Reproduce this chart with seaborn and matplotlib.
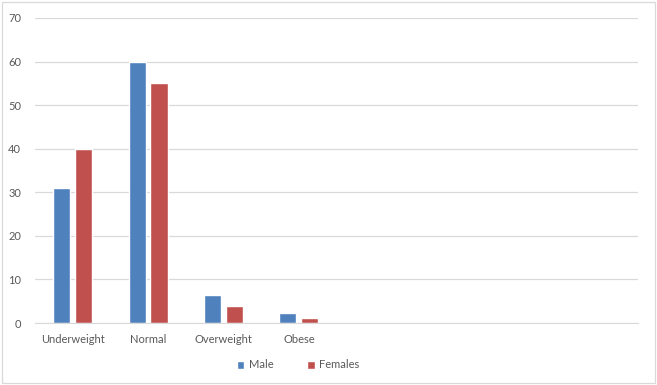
import pandas as pd
import matplotlib.pyplot as plt
import seaborn as sns
from matplotlib.patches import Rectangle

# -----------------------------------
# DATA
# -----------------------------------

categories = ["Underweight", "Normal", "Overweight", "Obese"]
male = [31, 60, 6.5, 2.3]
females = [40, 55, 3.8, 1.2]
series_names = ["Male", "Females"]

df = pd.DataFrame({
    "category": categories * 2,
    "value": male + females,
    "series": [series_names[0]] * len(categories) + [series_names[1]] * len(categories),
})

# -----------------------------------
# PLOT
# -----------------------------------

sns.set_style("white")
plt.rcParams["font.family"] = ["Lato", "DejaVu Sans"]

fig = plt.figure(figsize=(6.57, 3.85), dpi=100)
ax = fig.add_axes([35 / 657, 1 - 323 / 385, 603 / 657, 305 / 385])

sns.barplot(data=df, x="category", y="value", hue="series", order=categories,
            palette=["#4F81BD", "#C0504D"], width=0.58, gap=0.22,
            saturation=1, ax=ax)

ax.set_xlim(-0.5, 7.5)
ax.set_ylim(0, 70)
ax.set_yticks(range(0, 71, 10))
ax.yaxis.grid(True, color="#D9D9D9", linewidth=0.9)
ax.set_axisbelow(True)
ax.set_xlabel("")
ax.set_ylabel("")
ax.tick_params(axis="both", length=0, labelsize=8, colors="#595959", pad=8)
ax.tick_params(axis="y", pad=10)

for side in ["top", "right", "left"]:
    ax.spines[side].set_visible(False)
ax.spines["bottom"].set_color("#D9D9D9")

ax.legend(loc="center", bbox_to_anchor=(298 / 657, 1 - 365 / 385),
          bbox_transform=fig.transFigure, ncol=2, frameon=False,
          fontsize=8, handlelength=0.7, handleheight=0.7,
          columnspacing=3.0, handletextpad=0.4, labelcolor="#595959")

# chart border
fig.patches.append(Rectangle((2 / 657, 2 / 385), 653 / 657, 381 / 385,
                             transform=fig.transFigure, fill=False,
                             edgecolor="#D9D9D9", linewidth=0.9))

fig.savefig("out.png", dpi=100)
